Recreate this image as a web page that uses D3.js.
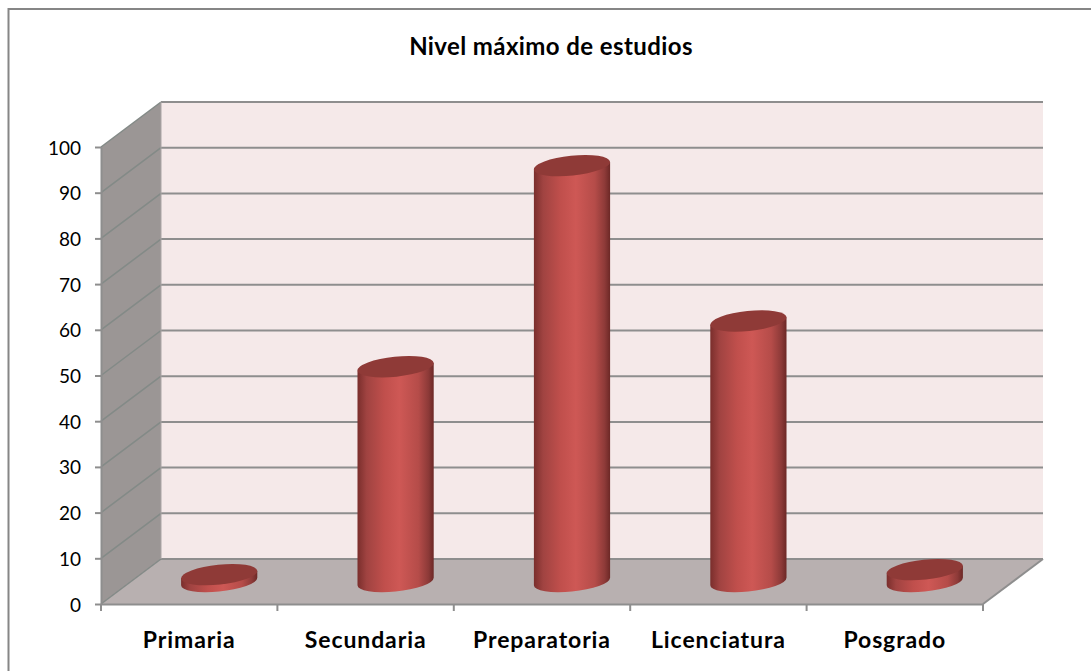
<!DOCTYPE html>
<html>
<head>
<meta charset="utf-8">
<script src="https://cdn.jsdelivr.net/npm/d3@7"></script>
<style>
  html, body { margin: 0; padding: 0; background: #fff; }
  svg { display: block; }
  text { font-family: Lato, "Open Sans", sans-serif; fill: #000; }
</style>
</head>
<body>
<div id="graph"></div>
<script>
// Nivel maximo de estudios - fake 3D cylinder chart
const categories = ["Primaria", "Secundaria", "Preparatoria", "Licenciatura", "Posgrado"];
const values = [1.5, 47, 91, 57, 2.6];
const yTicks = [0, 10, 20, 30, 40, 50, 60, 70, 80, 90, 100];
const title = "Nivel máximo de estudios";

const svgWidth = 1091;
const svgHeight = 671;
const front = { left: 101, right: 983, bottom: 604, top: 147 };
const depth = { x: 60, y: -45 };  // offset of the back wall

const svg = d3.select("#graph").append("svg")
  .attr("width", svgWidth)
  .attr("height", svgHeight);

const xScale = d3.scaleBand().domain(categories).range([front.left, front.right]);
const yScale = d3.scaleLinear().domain([0, 100]).range([front.bottom, front.top]);

// chart frame, only top and left show
svg.append("path")
  .attr("d", `M8.5,${svgHeight} V9 H${svgWidth}`)
  .attr("fill", "none")
  .attr("stroke", "#868686")
  .attr("stroke-width", 2);

svg.append("text")
  .attr("x", 551)
  .attr("y", 55)
  .attr("text-anchor", "middle")
  .attr("font-size", 24)
  .attr("font-weight", 700)
  .attr("letter-spacing", 0.4)
  .text(title);

// walls and floor
const y0 = yScale(0), y100 = yScale(100);
const l = front.left, r = front.right, dx = depth.x, dy = depth.y;

svg.append("path")
  .attr("d", `M${l + dx},${y100 + dy} H${r + dx} V${y0 + dy} H${l + dx} Z`)
  .attr("fill", "#f5e9e9");
svg.append("path")
  .attr("d", `M${l},${y0} L${l + dx},${y0 + dy} V${y100 + dy} L${l},${y100} Z`)
  .attr("fill", "#9b9695");
svg.append("path")
  .attr("d", `M${l},${y0} L${l + dx},${y0 + dy} H${r + dx} L${r},${y0} Z`)
  .attr("fill", "#b8b0b0");

// gridlines on back wall and side wall
const grid = svg.append("g").attr("fill", "none");
grid.selectAll(".back")
  .data(yTicks)
  .enter().append("line")
  .attr("class", "back")
  .attr("x1", l + dx)
  .attr("x2", r + dx)
  .attr("y1", d => yScale(d) + dy)
  .attr("y2", d => yScale(d) + dy)
  .attr("stroke", "#8e8e8e")
  .attr("stroke-width", 2);
grid.selectAll(".side")
  .data(yTicks)
  .enter().append("line")
  .attr("class", "side")
  .attr("x1", l)
  .attr("x2", l + dx)
  .attr("y1", d => yScale(d))
  .attr("y2", d => yScale(d) + dy)
  .attr("stroke", "#838a87")
  .attr("stroke-width", 1.5);
grid.append("line")
  .attr("x1", l + dx).attr("x2", l + dx)
  .attr("y1", y100 + dy).attr("y2", y0 + dy)
  .attr("stroke", "#a9a5a5");
grid.append("line")
  .attr("x1", r).attr("x2", r + dx)
  .attr("y1", y0).attr("y2", y0 + dy)
  .attr("stroke", "#8e8e8e")
  .attr("stroke-width", 2);

// axes
const yAxis = d3.axisLeft(yScale).tickValues(yTicks).tickSize(6).tickSizeOuter(0).tickPadding(14);
const yG = svg.append("g").attr("transform", `translate(${l},0)`).call(yAxis);
const xAxis = d3.axisBottom(xScale).tickSize(0).tickPadding(0);
const xG = svg.append("g").attr("transform", `translate(0,${y0})`).call(xAxis);

yG.selectAll("path, line").attr("stroke", "#8e8e8e").attr("stroke-width", 2);
yG.selectAll("text").attr("font-size", 19).attr("font-family", null).attr("y", 1);
xG.select(".domain").attr("stroke", "#8e8e8e").attr("stroke-width", 2);
xG.selectAll(".tick line").remove();
xG.selectAll("text")
  .attr("y", 44)
  .attr("dy", 0)
  .attr("font-size", 23)
  .attr("font-weight", 700)
  .attr("letter-spacing", 0.9)
  .attr("font-family", null);

// category separators under the floor edge
svg.append("g").selectAll("line")
  .data(d3.range(categories.length + 1))
  .enter().append("line")
  .attr("x1", i => l + i * xScale.step())
  .attr("x2", i => l + i * xScale.step())
  .attr("y1", y0)
  .attr("y2", y0 + 7)
  .attr("stroke", "#8e8e8e")
  .attr("stroke-width", 2);

// cylinder side gradient
const grad = svg.append("defs").append("linearGradient").attr("id", "side");
[[0, "#7a2e2c"], [0.12, "#a04341"], [0.35, "#c04f4c"], [0.55, "#ce5855"],
 [0.8, "#b54c49"], [0.93, "#8d3a38"], [1, "#6c2826"]].forEach(s => {
  grad.append("stop").attr("offset", s[0]).attr("stop-color", s[1]);
});

// tilted ellipse used for cylinder caps
const rx = 38.3, ry = 10, tilt = -6;
const rad = tilt * Math.PI / 180;
const halfW = Math.sqrt(rx * rx * Math.cos(rad) ** 2 + ry * ry * Math.sin(rad) ** 2);
const tangent = (rx * rx - ry * ry) * Math.sin(rad) * Math.cos(rad) / halfW;

const bars = svg.append("g").selectAll("g")
  .data(categories.map((c, i) => ({ name: c, value: values[i] })))
  .enter().append("g")
  .attr("transform", d => `translate(${xScale(d.name) + xScale.bandwidth() / 2 + dx / 2},${dy / 2})`);

bars.append("path")
  .attr("d", d => {
    const top = yScale(d.value), base = y0;
    return `M${-halfW},${top - tangent} L${-halfW},${base - tangent}` +
      `A${rx},${ry} ${tilt} 0 0 ${halfW},${base + tangent} L${halfW},${top + tangent} Z`;
  })
  .attr("fill", "url(#side)");

bars.append("ellipse")
  .attr("rx", rx)
  .attr("ry", ry)
  .attr("transform", d => `translate(0,${yScale(d.value)}) rotate(${tilt})`)
  .attr("fill", "#8f3a37");
</script>
</body>
</html>
